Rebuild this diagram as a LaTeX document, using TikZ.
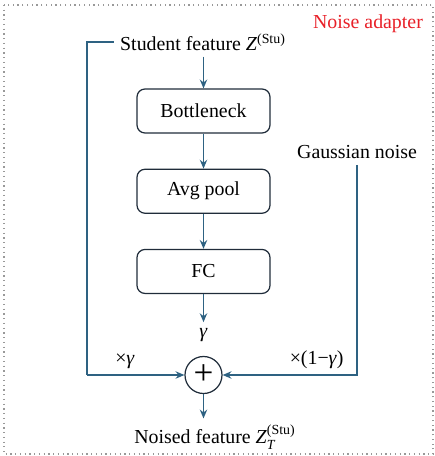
\documentclass[tikz,border=0pt]{standalone}
\usepackage{amsmath}
\usepackage{fontspec}
\setmainfont{Liberation Serif}
\usetikzlibrary{positioning,arrows.meta}

\definecolor{flowblue}{RGB}{46,98,130}
\definecolor{boxedge}{RGB}{32,44,58}
\definecolor{titlered}{RGB}{232,32,40}

\begin{document}
\begin{tikzpicture}[node distance=0.7cm and 1cm,
        font=\fontsize{11.3}{13.5}\selectfont,
        block/.style={draw=boxedge, rectangle, rounded corners=0.16cm, line width=0.7pt, minimum height=0.88cm, minimum width=2.66cm},
        flow/.style={draw=flowblue, line width=0.8pt, -{Stealth[length=5pt,width=4.2pt]}},
        plain/.style={draw=flowblue, line width=0.8pt}]
        \useasboundingbox (0,0) rectangle (8.7,-9.12);
        \draw[gray!80, dotted, line width=0.7pt] (0.08,-0.1) rectangle (8.66,-9.08);

        \node[text=titlered] (title) at (7.36,-0.48) {Noise adapter};
        \node (stu) at (4.06,-0.84) {Student feature \textit{Z}$^{\textrm{(Stu)}}$};

        \node[block] (bottle) at (4.07,-2.22) {Bottleneck};
        \node[block, below=of bottle] (avg) {Avg pool};
        \node[block, below=of avg] (fc) {FC};

        \node (gam) at (4.07,-6.70) {\textit{γ}};
        \node[draw=boxedge, circle, line width=0.7pt, minimum size=0.74cm, inner sep=0pt] (plus) at (4.07,-7.50) {\fontsize{20}{20}\selectfont +};
        \node (out) at (4.30,-8.74) {Noised feature \textit{Z}$^{\textrm{(Stu)}}_{\textit{T}}$};

        \node (noise) at (7.14,-3.04) {Gaussian noise};
        \coordinate (lcorner) at (1.74,-7.50);

        \draw[flow] (bottle.north |- stu.south) -- (bottle.north);
        \draw[flow] (bottle) -- (avg);
        \draw[flow] (avg) -- (fc);
        \draw[flow] (fc) -- (gam.north);

        \draw[plain] (stu.west) -| (lcorner);
        \draw[flow] (lcorner) -- (plus.west) node[pos=0.39, above] {×\textit{γ}};
        \draw[flow] (noise.south) |- (plus.east) node[pos=0.65, above] {×(1−\textit{γ})};

        \draw[flow] (plus.south) -- (plus.south |- out.north);
    \end{tikzpicture}
\end{document}
